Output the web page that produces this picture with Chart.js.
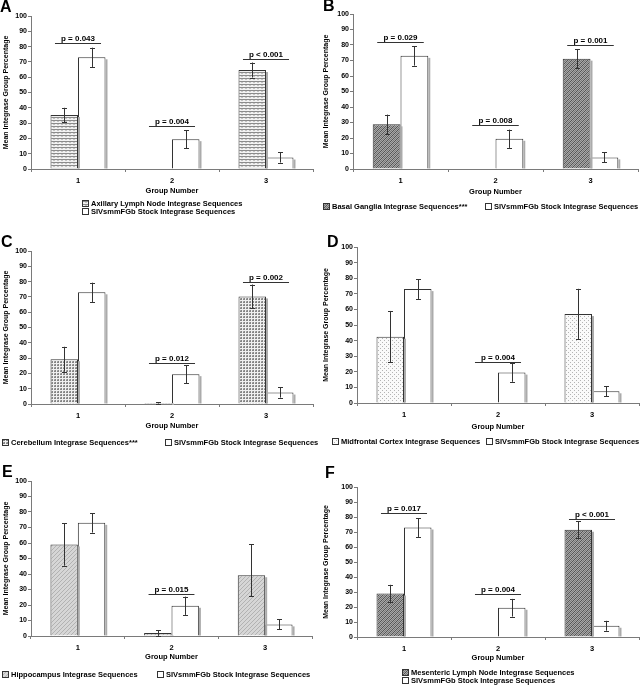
<!DOCTYPE html>
<html><head><meta charset="utf-8">
<script src="https://cdn.jsdelivr.net/npm/chart.js@4/dist/chart.umd.min.js"></script>
<style>
html,body{margin:0;padding:0;background:#fff;}
#wrap{position:relative;width:640px;height:685px;overflow:hidden;background:#fff;}
canvas{position:absolute;}
</style></head><body><div id="wrap">
<canvas id="cA"></canvas><canvas id="cB"></canvas>
<canvas id="cC"></canvas><canvas id="cD"></canvas>
<canvas id="cE"></canvas><canvas id="cF"></canvas>
</div>
<script>
// ---------- DATA ----------
const groupLabels = ['1', '2', '3'];
const yMin = 0, yMax = 100, yStep = 10;
const xTitle = 'Group Number';
const yTitle = 'Mean Integrase Group Percentage';

// error entries: symmetric number, or [minus, plus]
const stockLabel = 'SIVsmmFGb Stock Integrase Sequences';
const stockMeans = [73, 19.5, 7.5];
const stockErrors = [6.3, 5.9, 3.3];

const axillaryLabel = 'Axillary Lymph Node Integrase Sequences';
const axillaryMeans = [35.3, 0, 64.7];
const axillaryErrors = [4.7, 0, 4.9];
const axillaryP = ['p = 0.043', 'p = 0.004', 'p < 0.001'];
const axillaryPLevel = [82.4, 28, 72];

const basalLabel = 'Basal Ganglia Integrase Sequences***';
const basalMeans = [28.8, 0, 71.2];
const basalErrors = [6.3, 0, 6.2];
const basalP = ['p = 0.029', 'p = 0.008', 'p = 0.001'];
const basalPLevel = [82, 28.4, 80.2];

const cerebellumLabel = 'Cerebellum Integrase Sequences***';
const cerebellumMeans = [29.3, 0.7, 70.3];
const cerebellumErrors = [8.1, 0.4, 7.8];
const cerebellumP = [null, 'p = 0.012', 'p = 0.002'];
const cerebellumPLevel = [null, 27, 80];

const midfrontalLabel = 'Midfrontal Cortex Integrase Sequences';
const midfrontalMeans = [42.5, 0, 57];
const midfrontalErrors = [16.5, 0, 16.2];
const midfrontalP = [null, 'p = 0.004', null];
const midfrontalPLevel = [null, 26.5, null];

const hippocampusLabel = 'Hippocampus Integrase Sequences';
const hippocampusMeans = [59.1, 1.9, 39.2];
const hippocampusErrors = [13.7, 1.8, [13.6, 20]];
const hippocampusP = [null, 'p = 0.015', null];
const hippocampusPLevel = [null, 27, null];

const mesentericLabel = 'Mesenteric Lymph Node Integrase Sequences';
const mesentericMeans = [29, 0, 71.5];
const mesentericErrors = [5.8, 0, 5.7];
const mesentericP = ['p = 0.017', 'p = 0.004', 'p < 0.001'];
const mesentericPLevel = [82.7, 28.7, 79];

// ---------- LAYOUT / STYLE ----------
const FONT = "'Liberation Sans', Arial, Helvetica, sans-serif";
const panels = [
  {id:'cA', letter:'A', left:0, top:0, w:320, h:220, area:{left:31, top:16, right:313, bottom:169}, titleY:191,
   letterPos:[0,12], legend:[{x:82,y:203,s:0},{x:82,y:211,s:1}], pattern:'hlines',
   label:axillaryLabel, means:axillaryMeans, errors:axillaryErrors, p:axillaryP, pl:axillaryPLevel},
  {id:'cB', letter:'B', left:320, top:0, w:320, h:220, area:{left:33, top:14, right:318, bottom:169}, titleY:192,
   letterPos:[3,11], legend:[{x:3,y:206,s:0},{x:165,y:206,s:1}], pattern:'diagDark',
   label:basalLabel, means:basalMeans, errors:basalErrors, p:basalP, pl:basalPLevel},
  {id:'cC', letter:'C', left:0, top:220, w:320, h:230, area:{left:31, top:31, right:313, bottom:184}, titleY:206,
   letterPos:[1,27], legend:[{x:2,y:222,s:0},{x:165,y:222,s:1}], pattern:'checker',
   label:cerebellumLabel, means:cerebellumMeans, errors:cerebellumErrors, p:cerebellumP, pl:cerebellumPLevel},
  {id:'cD', letter:'D', left:320, top:220, w:320, h:230, area:{left:37, top:27, right:319, bottom:183}, titleY:207,
   letterPos:[7,27], legend:[{x:12,y:221,s:0},{x:166,y:221,s:1}], pattern:'dots',
   label:midfrontalLabel, means:midfrontalMeans, errors:midfrontalErrors, p:midfrontalP, pl:midfrontalPLevel},
  {id:'cE', letter:'E', left:0, top:450, w:320, h:235, area:{left:31, top:31, right:312, bottom:186}, titleY:207,
   letterPos:[2,27], legend:[{x:2,y:224,s:0},{x:157,y:224,s:1}], pattern:'lightDiag',
   label:hippocampusLabel, means:hippocampusMeans, errors:hippocampusErrors, p:hippocampusP, pl:hippocampusPLevel},
  {id:'cF', letter:'F', left:320, top:450, w:320, h:235, area:{left:37, top:37, right:319, bottom:187}, titleY:208,
   letterPos:[5,28], legend:[{x:82,y:222,s:0},{x:82,y:230,s:1}], pattern:'diagDark',
   label:mesentericLabel, means:mesentericMeans, errors:mesentericErrors, p:mesentericP, pl:mesentericPLevel}
];

function makeTile(kind) {
  const t = document.createElement('canvas');
  const g = t.getContext('2d');
  if (kind === 'hlines') {
    t.width = 4; t.height = 3;
    g.fillStyle = '#f2f2f2'; g.fillRect(0,0,4,3);
    g.fillStyle = '#8c8c8c'; g.fillRect(0,0,4,1);
    g.fillStyle = '#c4c4c4'; g.fillRect(1,1,2,1);
  } else if (kind === 'diagDark') {
    t.width = 4; t.height = 4;
    g.fillStyle = '#a8a8a8'; g.fillRect(0,0,4,4);
    g.fillStyle = '#555555';
    for (let i = 0; i < 4; i++) g.fillRect(i, 3 - i, 1, 1);
    g.fillStyle = '#7a7a7a';
    for (let i = 0; i < 4; i++) g.fillRect((i + 2) % 4, 3 - i, 1, 1);
  } else if (kind === 'checker') {
    t.width = 3; t.height = 3;
    g.fillStyle = '#f0f0f0'; g.fillRect(0,0,3,3);
    g.fillStyle = '#858585'; g.fillRect(0,0,2,2);
    g.fillStyle = '#aaaaaa'; g.fillRect(0,0,1,1);
  } else if (kind === 'dots') {
    t.width = 4; t.height = 4;
    g.fillStyle = '#fafafa'; g.fillRect(0,0,4,4);
    g.fillStyle = '#b4b4b4'; g.fillRect(0,0,1,1); g.fillRect(2,2,1,1);
  } else if (kind === 'lightDiag') {
    t.width = 4; t.height = 4;
    g.fillStyle = '#d6d6d6'; g.fillRect(0,0,4,4);
    g.fillStyle = '#b2b2b2';
    for (let i = 0; i < 4; i++) g.fillRect(i, 3 - i, 1, 1);
  }
  return t;
}

const panelById = {};

const decorPlugin = {
  id: 'decor',
  afterDatasetsDraw(chart) {
    const p = panelById[chart.canvas.id];
    const ctx = chart.ctx;
    const ys = chart.scales.y, xs = chart.scales.x;
    ctx.save();
    // bar side shadows
    chart.data.datasets.forEach((ds, di) => {
      const meta = chart.getDatasetMeta(di);
      meta.data.forEach((el, i) => {
        if (ds.data[i] > 0.3) {
          ctx.fillStyle = '#ababab';
          ctx.fillRect(el.x + el.width / 2, el.y + 2, 2, el.base - el.y - 2);
        }
      });
    });
    // error bars
    ctx.strokeStyle = '#333'; ctx.lineWidth = 1;
    chart.data.datasets.forEach((ds, di) => {
      const meta = chart.getDatasetMeta(di);
      meta.data.forEach((el, i) => {
        const v = ds.data[i], e = ds.errors[i];
        if (!e) return;
        const eMinus = Array.isArray(e) ? e[0] : e;
        const ePlus = Array.isArray(e) ? e[1] : e;
        const x = Math.round(el.x) + 0.5;
        const yT = ys.getPixelForValue(v + ePlus), yB = ys.getPixelForValue(Math.max(0, v - eMinus));
        ctx.beginPath();
        ctx.moveTo(x, yT); ctx.lineTo(x, yB);
        ctx.moveTo(x - 2.5, Math.round(yT) + 0.5); ctx.lineTo(x + 2.5, Math.round(yT) + 0.5);
        ctx.moveTo(x - 2.5, Math.round(yB) + 0.5); ctx.lineTo(x + 2.5, Math.round(yB) + 0.5);
        ctx.stroke();
      });
    });
    // p-value brackets
    const catW = (xs.right - xs.left) / groupLabels.length;
    ctx.font = 'bold 8px ' + FONT;
    ctx.textAlign = 'center'; ctx.textBaseline = 'alphabetic';
    ctx.fillStyle = '#000';
    p.p.forEach((txt, i) => {
      if (!txt) return;
      const cx = xs.getPixelForValue(i);
      const y = Math.round(ys.getPixelForValue(p.pl[i])) + 0.5;
      ctx.beginPath();
      ctx.moveTo(cx - catW * 0.245, y); ctx.lineTo(cx + catW * 0.245, y);
      ctx.stroke();
      ctx.fillText(txt, cx, y - 3);
    });
    ctx.restore();
  },
  afterDraw(chart) {
    const p = panelById[chart.canvas.id];
    const ctx = chart.ctx;
    ctx.save();
    ctx.fillStyle = '#000';
    ctx.font = 'bold 16px ' + FONT;
    ctx.textAlign = 'left'; ctx.textBaseline = 'alphabetic';
    ctx.fillText(p.letter, p.letterPos[0], p.letterPos[1]);
    // legend
    ctx.font = 'bold 7.5px ' + FONT;
    ctx.textBaseline = 'middle';
    p.legend.forEach(item => {
      const ds = chart.data.datasets[item.s];
      ctx.fillStyle = ds.backgroundColor;
      ctx.fillRect(item.x, item.y - 3, 6, 6);
      ctx.strokeStyle = '#333'; ctx.lineWidth = 1;
      ctx.strokeRect(item.x + 0.5, Math.round(item.y - 3) + 0.5, 6, 6);
      ctx.fillStyle = '#000';
      ctx.fillText(ds.label, item.x + 9, item.y + 0.5);
    });
    ctx.restore();
  }
};

panels.forEach(p => {
  panelById[p.id] = p;
  const canvas = document.getElementById(p.id);
  canvas.width = p.w; canvas.height = p.h;
  canvas.style.left = p.left + 'px'; canvas.style.top = p.top + 'px';
  canvas.style.width = p.w + 'px'; canvas.style.height = p.h + 'px';
  const pattern = canvas.getContext('2d').createPattern(makeTile(p.pattern), 'repeat');
  const xh = p.titleY - p.area.bottom + 4.5;
  new Chart(canvas, {
    type: 'bar',
    data: {
      labels: groupLabels,
      datasets: [
        {label: p.label, data: p.means, errors: p.errors, backgroundColor: pattern,
         borderColor: '#333', borderWidth: 1},
        {label: stockLabel, data: stockMeans, errors: stockErrors, backgroundColor: '#ffffff',
         borderColor: '#333', borderWidth: 1}
      ]
    },
    options: {
      responsive: false, animation: false, devicePixelRatio: 1,
      layout: {padding: {left: 0, top: p.area.top, right: p.w - p.area.right, bottom: p.h - p.area.bottom - xh}},
      datasets: {bar: {categoryPercentage: 0.585, barPercentage: 1}},
      plugins: {legend: {display: false}, tooltip: {enabled: false}, title: {display: false}},
      scales: {
        x: {
          grid: {display: true, drawOnChartArea: false, tickLength: 3, color: '#7a7a7a', offset: true},
          border: {color: '#7a7a7a', width: 1},
          ticks: {font: {family: FONT, size: 7.5, weight: 'bold'}, color: '#000', padding: 4},
          title: {display: true, text: xTitle, font: {family: FONT, size: 7.5, weight: 'bold'}, color: '#000', padding: 0},
          afterFit: s => { s.height = xh; }
        },
        y: {
          min: yMin, max: yMax,
          ticks: {stepSize: yStep, font: {family: FONT, size: 7, weight: 'bold'}, color: '#000', padding: 1},
          grid: {display: true, drawOnChartArea: false, tickLength: 3, color: '#7a7a7a'},
          border: {color: '#7a7a7a', width: 1},
          title: {display: true, text: yTitle, font: {family: FONT, size: 7, weight: 'bold'}, color: '#000', padding: {top: 2, bottom: 0}},
          afterFit: s => { s.width = p.area.left; }
        }
      }
    },
    plugins: [decorPlugin]
  });
});
</script>
</body></html>
